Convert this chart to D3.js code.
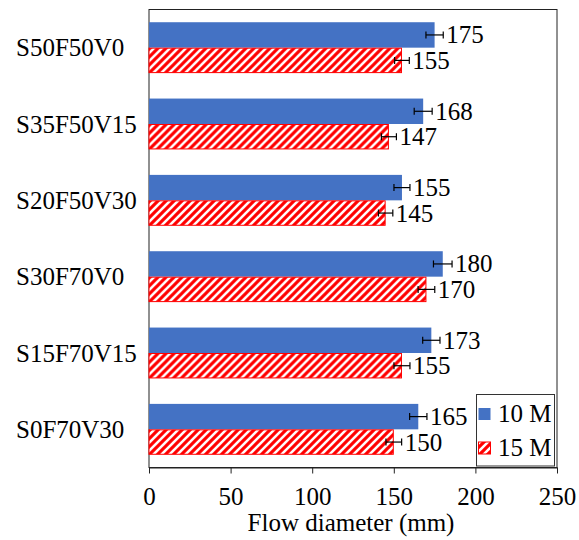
<!DOCTYPE html>
<html>
<head>
<meta charset="utf-8">
<script src="https://cdn.jsdelivr.net/npm/d3@7"></script>
<style>
  html, body { margin: 0; padding: 0; background: #fff; }
  svg { display: block; }
  text { font-family: "Liberation Serif", "Times New Roman", serif; fill: #000; }
</style>
</head>
<body>
<svg id="chart" width="579" height="540"></svg>
<script>
// Mixes, top to bottom
const categories = ["S50F50V0", "S35F50V15", "S20F50V30", "S30F70V0", "S15F70V15", "S0F70V30"];
const seriesNames = ["10 M", "15 M"];
// Flow diameter (mm) and its spread
const flow10 = [175, 168, 155, 180, 173, 165];
const flow15 = [155, 147, 145, 170, 155, 150];
const err10 = [5.3, 5.5, 4.9, 5.7, 5.3, 5.3];
const err15 = [4.5, 4.6, 4.4, 5.1, 4.9, 4.8];
const xTicks = [0, 50, 100, 150, 200, 250];
const xTitle = "Flow diameter (mm)";

const svg = d3.select("#chart");
const plot = { left: 149, right: 557, top: 9.5, bottom: 467.5 };
const fontSize = 25;
const blue = "#4472C4";
const red = "#FF0000";

// Diagonal hatch for the 15 M series
const defs = svg.append("defs");
const pat = defs.append("pattern")
  .attr("id", "hatch")
  .attr("patternUnits", "userSpaceOnUse")
  .attr("width", 8).attr("height", 8);
pat.append("rect").attr("width", 8).attr("height", 8).attr("fill", "#fff");
pat.append("path")
  .attr("d", "M-2,2 L2,-2 M0,8 L8,0 M6,10 L10,6")
  .attr("stroke", red).attr("stroke-width", 3.1);

const x = d3.scaleLinear().domain([0, 250]).range([plot.left, plot.right]);
const y = d3.scaleBand().domain(categories).range([plot.top, plot.bottom])
  .paddingInner(1 / 3).paddingOuter(1 / 6);
const sub = d3.scaleBand().domain(seriesNames).range([0, y.bandwidth()]);

const rows = categories.map((c, i) => ({
  cat: c,
  items: [
    { s: seriesNames[0], v: flow10[i], e: err10[i] },
    { s: seriesNames[1], v: flow15[i], e: err15[i] }
  ]
}));

// Plot frame
svg.append("rect")
  .attr("x", plot.left).attr("y", plot.top)
  .attr("width", plot.right - plot.left).attr("height", plot.bottom - plot.top)
  .attr("fill", "none").attr("stroke", "#222").attr("stroke-width", 1);

const groups = svg.append("g").selectAll("g").data(rows).join("g")
  .attr("transform", d => `translate(0,${y(d.cat)})`);

groups.selectAll("rect.bar").data(d => d.items).join("rect")
  .attr("class", "bar")
  .attr("x", x(0))
  .attr("y", d => sub(d.s) + (d.s === seriesNames[1] ? 0.5 : 0))
  .attr("width", d => x(d.v) - x(0) - (d.s === seriesNames[1] ? 0.5 : 0))
  .attr("height", d => sub.bandwidth() - (d.s === seriesNames[1] ? 1 : 0))
  .attr("fill", d => d.s === seriesNames[0] ? blue : "url(#hatch)")
  .attr("stroke", d => d.s === seriesNames[0] ? "none" : red)
  .attr("stroke-width", 1);

// Error bars
const eb = groups.selectAll("g.err").data(d => d.items).join("g").attr("class", "err")
  .attr("transform", d => `translate(0,${sub(d.s) + sub.bandwidth() / 2})`)
  .attr("stroke", "#000").attr("stroke-width", 1.2);
eb.append("line")
  .attr("x1", d => x(d.v - d.e)).attr("x2", d => x(d.v + d.e))
  .attr("y1", 0).attr("y2", 0);
eb.append("line")
  .attr("x1", d => x(d.v - d.e)).attr("x2", d => x(d.v - d.e))
  .attr("y1", -3.5).attr("y2", 3.5);
eb.append("line")
  .attr("x1", d => x(d.v + d.e)).attr("x2", d => x(d.v + d.e))
  .attr("y1", -3.5).attr("y2", 3.5);

// Value labels
groups.selectAll("text.val").data(d => d.items).join("text")
  .attr("class", "val")
  .attr("x", d => x(d.v + d.e) + 3)
  .attr("y", d => sub(d.s) + sub.bandwidth() / 2)
  .attr("dy", "0.34em")
  .attr("font-size", fontSize)
  .text(d => d.v);

// Category labels
svg.append("g").selectAll("text").data(categories).join("text")
  .attr("x", 16)
  .attr("y", d => y(d) + y.bandwidth() / 2)
  .attr("dy", "0.34em")
  .attr("font-size", fontSize)
  .text(d => d);

// Value axis
const xAxis = svg.append("g")
  .attr("transform", `translate(0,${plot.bottom})`)
  .call(d3.axisBottom(x).tickValues(xTicks).tickSize(6).tickPadding(14).tickSizeOuter(0));
xAxis.select(".domain").attr("stroke", "#222");
xAxis.selectAll(".tick line").attr("stroke", "#222");
xAxis.selectAll("text")
  .attr("font-size", fontSize)
  .attr("font-family", "'Liberation Serif', 'Times New Roman', serif")
  .attr("fill", "#000");

svg.append("text")
  .attr("x", (plot.left + plot.right) / 2 - 2)
  .attr("y", 531)
  .attr("text-anchor", "middle")
  .attr("font-size", fontSize)
  .text(xTitle);

// Legend
const lg = svg.append("g");
lg.append("rect")
  .attr("x", 476.5).attr("y", 394.5).attr("width", 78).attr("height", 71.5)
  .attr("fill", "#fff").attr("stroke", "#333").attr("stroke-width", 1);
const items = lg.selectAll("g").data(seriesNames).join("g")
  .attr("transform", (d, i) => `translate(478,${414 + i * 34})`);
items.append("rect")
  .attr("x", 0.5).attr("y", -6).attr("width", 12).attr("height", 12)
  .attr("fill", (d, i) => i === 0 ? blue : "url(#hatch)")
  .attr("stroke", (d, i) => i === 0 ? "none" : red);
items.append("text")
  .attr("x", 20).attr("y", 0).attr("dy", "0.32em")
  .attr("font-size", fontSize)
  .text(d => d);
</script>
</body>
</html>
